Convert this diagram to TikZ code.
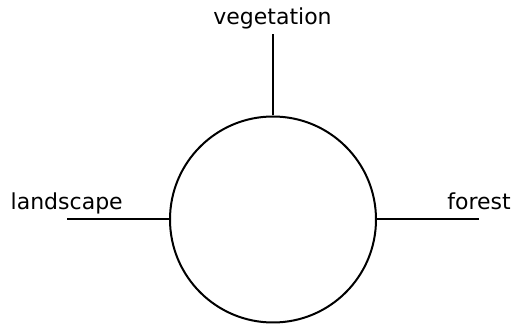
\documentclass[tikz,border=0pt]{standalone}
\usepackage{fontspec}
\setmainfont{DejaVu Sans}
\begin{document}
\begin{tikzpicture}[x=1pt,y=1pt,
  conn/.style={line width=2pt},
  lbl/.style={font=\fontsize{22}{26}\selectfont, inner sep=0pt}]
\useasboundingbox (0,0) rectangle (515,324);
\node[circle, draw, line width=2pt, minimum size=206pt, inner sep=0pt] (c) at (273,104.5) {};
\coordinate (topend) at (273,290);
\coordinate (leftend) at (67,104.5);
\coordinate (rightend) at (479,104.5);
\draw[conn] (c.north) -- (topend);
\draw[conn] (c.west) -- (leftend);
\draw[conn] (c.east) -- (rightend);
\node[lbl, anchor=base] (veg) at (272.5,299) {vegetation};
\node[lbl, anchor=base west] (land) at (10.5,114) {landscape};
\node[lbl, anchor=base east] (for) at (511,114) {forest};
\end{tikzpicture}
\end{document}
